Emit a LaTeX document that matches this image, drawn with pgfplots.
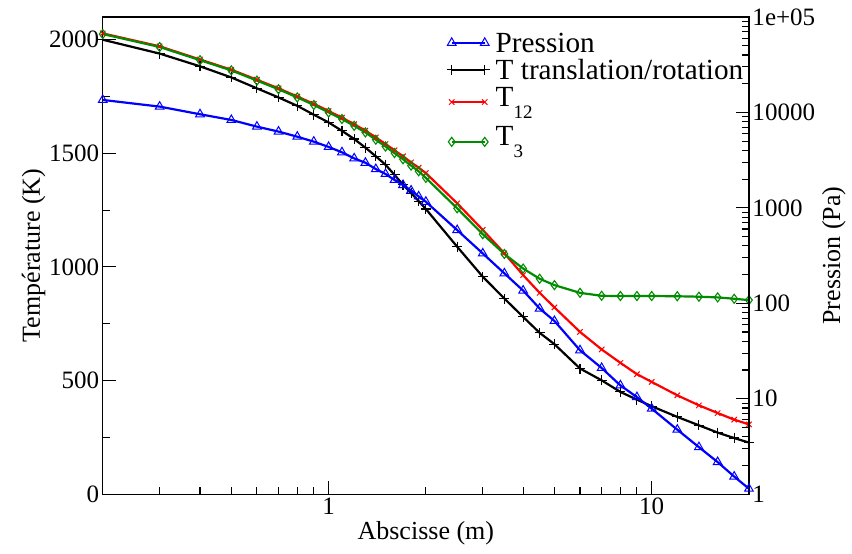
\documentclass[border=0pt]{standalone}
\usepackage{pgfplots}
\usepackage{pgfplotstable}
\pgfplotsset{compat=1.18}
\usepackage{fontspec}
\setmainfont{Liberation Serif}
\definecolor{xgreen}{RGB}{0,139,0}

\pgfplotstableread{
x    Ttr   T12   T3    P
0.2  2000  2028  2025  13520
0.3  1939  1971  1968  11510
0.4  1883  1913  1910  9570
0.5  1834  1868  1865  8340
0.6  1786  1824  1820  7100
0.7  1746  1786  1782  6300
0.8  1709  1750  1746  5570
0.9  1670  1718  1713  4940
1.0  1636  1686  1680  4350
1.1  1599  1657  1651  3820
1.2  1563  1628  1621  3300
1.3  1525  1600  1592  2970
1.4  1487  1570  1560  2550
1.5  1450  1541  1530  2265
1.6  1405  1513  1501  1960
1.7  1362  1487  1474  1734
1.8  1325  1460  1446  1520
1.9  1290  1437  1421  1318
2.0  1255  1413  1392  1159
2.5  1089  1280  1258  585
3.0  957   1163  1144  333
3.5  861   1060  1057  206
4.0  780   964   993   136
4.5  710   886   948   88.1
5.0  660   822   920   65.3
6    553   714   886   32.2
7    501   637   873   21.0
8    450   578   872   13.8
9    416   528   872   10.4
10   387   494   872   7.87
12   340   435   871   4.74
14   303   391   869   3.11
16   271   357   866   2.17
18   247   328   860   1.53
20   227   307   854   1.14
}\data

\begin{document}
\begin{tikzpicture}
\pgfplotsset{
  every axis/.append style={
    scale only axis, width=646pt, height=477pt,
    at={(0,0)}, anchor=south west,
    xmode=log, xmin=0.2, xmax=20,
    axis line style={line width=1.3pt},
    tick style={line width=1.1pt, black},
    major tick length=13pt, minor tick length=7pt,
    tick align=inside,
    /pgf/number format/assume math mode=true,
    /pgf/number format/1000 sep={},
    tick label style={font=\fontsize{25}{28}\selectfont},
    label style={font=\fontsize{26}{30}\selectfont},
    legend image code/.code={\draw[##1] plot coordinates {(0pt,0pt) (33pt,0pt)};},
  },
}
\begin{axis}[
  ymin=0, ymax=2100,
  ytick={0,500,1000,1500,2000},
  minor ytick={250,750,1250,1750},
  xtick={1,10}, xticklabels={1,10},
  minor xtick={0.3,0.4,0.5,0.6,0.7,0.8,0.9,2,3,4,5,6,7,8,9},
  xtick pos=bottom, ytick pos=left,
  xlabel={Abscisse (m)},
  ylabel={Température (K)},
  ylabel shift=-3pt,
  legend style={at={(rel axis cs:0.532,0.9746)}, anchor=north west,
    draw=none, fill=none, font=\fontsize{29.2}{30}\selectfont,
    row sep=0pt, inner sep=0pt, column sep=6pt,
    nodes={inner sep=0pt, text depth=}},
  legend cell align=left,
]
\addlegendimage{blue, line width=2.2pt, mark=triangle, mark size=5pt, mark options={solid, line width=1pt}}
\addlegendentry{\rule[-3.75pt]{0pt}{27pt}Pression}
\addplot[black, line width=2.2pt, mark=+, mark size=5pt, mark options={line width=1.1pt}] table[x=x, y=Ttr] {\data};
\addlegendentry{\rule[-3.75pt]{0pt}{27pt}T translation/rotation}
\addplot[red, line width=2.2pt, mark=x, mark size=3.8pt, mark options={line width=1pt}] table[x=x, y=T12] {\data};
\addlegendentry{\rule[-14.15pt]{0pt}{37.4pt}T\raisebox{-12pt}{\fontsize{19}{19}\selectfont 12}}
\addplot[xgreen, line width=2.2pt, mark=diamond, mark size=4.5pt, mark options={line width=1.1pt}] table[x=x, y=T3] {\data};
\addlegendentry{\rule[-17.35pt]{0pt}{42.2pt}T\raisebox{-12pt}{\fontsize{19}{19}\selectfont 3}}
\end{axis}
\begin{axis}[
  ymode=log, ymin=1, ymax=1e5,
  hide x axis,
  axis y line*=right,
  ytick={1,10,100,1000,10000,100000},
  yticklabels={1,10,100,1000,10000,1e+05},
  minor ytick={2,3,4,5,6,7,8,9,20,30,40,50,60,70,80,90,200,300,400,500,600,700,800,900,2000,3000,4000,5000,6000,7000,8000,9000,20000,30000,40000,50000,60000,70000,80000,90000},
  ylabel={Pression (Pa)},
]
\addplot[blue, line width=2.2pt, mark=triangle, mark size=5pt, mark options={line width=1pt}] table[x=x, y=P] {\data};
\end{axis}
\path (-102.7pt,-59.3pt) rectangle (749pt,494pt);
\end{tikzpicture}
\end{document}
